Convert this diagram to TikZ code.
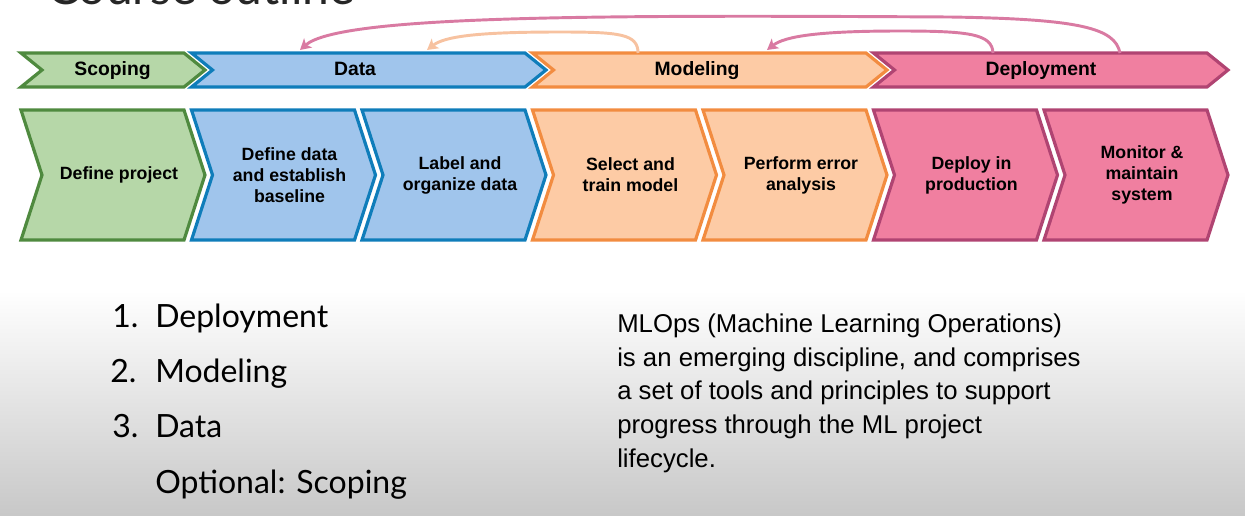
\documentclass[tikz,border=0pt]{standalone}
\usepackage{fontspec}
\setmainfont{Liberation Sans}
\newfontfamily\slidefont{Lato}
\usetikzlibrary{arrows.meta}
\definecolor{scopefill}{HTML}{B6D7A8}
\definecolor{scopeline}{HTML}{4F8A3F}
\definecolor{datafill}{HTML}{A0C5EC}
\definecolor{dataline}{HTML}{0F7DBA}
\definecolor{modelfill}{HTML}{FDCBA5}
\definecolor{modelline}{HTML}{F28C40}
\definecolor{deployfill}{HTML}{F07FA0}
\definecolor{deployline}{HTML}{B04472}
\definecolor{pinkloop}{HTML}{D97AA2}
\definecolor{peachloop}{HTML}{F7C2A0}
\definecolor{bggray}{HTML}{C8C8C8}
\tikzset {
    chevron/.style = {line width = 2.4pt, line join = miter},
    scoping box/.style = {chevron, draw = scopeline, fill = scopefill},
    data box/.style = {chevron, draw = dataline, fill = datafill},
    modeling box/.style = {chevron, draw = modelline, fill = modelfill},
    deployment box/.style = {chevron, draw = deployline, fill = deployfill},
    %
    band label/.style = {anchor = base, inner sep = 0pt, font = \fontsize{14.5}{17}\selectfont\bfseries},
    step label/.style = {inner sep = 0pt, align = center,
        font = \fontsize{13.3}{15.8}\selectfont\bfseries},
    loop back/.style = {line width = 2.2pt, -{Stealth[length = 8pt, width = 9pt, inset = 2pt]}},
    %
    title text/.style = {anchor = base west, inner sep = 0pt,
        font = \slidefont\fontsize{36}{40}\selectfont, text = black!85},
    list text/.style = {anchor = base west, inner sep = 0pt,
        font = \slidefont\fontsize{24}{28}\selectfont},
    note text/.style = {anchor = north west, inner sep = 0pt, align = left,
        font = \fontsize{19.3}{25.3}\selectfont}
}
\begin{document}
\begin{tikzpicture}[x = 0.75pt, y = -0.75pt]
    \useasboundingbox (0, 0) rectangle (1245, 515);
    \clip (0, 0) rectangle (1245, 515);
    \shade [top color = white, bottom color = bggray] (0, 290) rectangle (1245, 515);
    \node (title) [title text] at (47, 4) {Course outline};
    % phase band
    \draw [scoping box] (21, 53) -- ++(163, 0) -- ++(21, 17) -- ++(-21, 17) -- ++(-163, 0) -- ++(21, -17) -- cycle;
    \draw [data box] (191.5, 53) -- ++(333.5, 0) -- ++(21, 17) -- ++(-21, 17) -- ++(-333.5, 0) -- ++(21, -17) -- cycle;
    \draw [modeling box] (532.5, 53) -- ++(333.5, 0) -- ++(21, 17) -- ++(-21, 17) -- ++(-333.5, 0) -- ++(21, -17) -- cycle;
    \draw [deployment box] (873.5, 53) -- ++(333.5, 0) -- ++(21, 17) -- ++(-21, 17) -- ++(-333.5, 0) -- ++(21, -17) -- cycle;
    \node (scoping) [band label] at (112.5, 75.5) {Scoping};
    \node (data) [band label] at (355, 75.5) {Data};
    \node (modeling) [band label] at (697, 75.5) {Modeling};
    \node (deployment) [band label] at (1041, 75.5) {Deployment};
    % steps
    \draw [scoping box] (21, 110) -- ++(163, 0) -- ++(21, 65) -- ++(-21, 65) -- ++(-163, 0) -- ++(21, -65) -- cycle;
    \draw [data box] (191.5, 110) -- ++(163, 0) -- ++(21, 65) -- ++(-21, 65) -- ++(-163, 0) -- ++(21, -65) -- cycle;
    \draw [data box] (362, 110) -- ++(163, 0) -- ++(21, 65) -- ++(-21, 65) -- ++(-163, 0) -- ++(21, -65) -- cycle;
    \draw [modeling box] (532.5, 110) -- ++(163, 0) -- ++(21, 65) -- ++(-21, 65) -- ++(-163, 0) -- ++(21, -65) -- cycle;
    \draw [modeling box] (703, 110) -- ++(163, 0) -- ++(21, 65) -- ++(-21, 65) -- ++(-163, 0) -- ++(21, -65) -- cycle;
    \draw [deployment box] (873.5, 110) -- ++(163, 0) -- ++(21, 65) -- ++(-21, 65) -- ++(-163, 0) -- ++(21, -65) -- cycle;
    \draw [deployment box] (1044, 110) -- ++(163, 0) -- ++(21, 65) -- ++(-21, 65) -- ++(-163, 0) -- ++(21, -65) -- cycle;
    \node (project) [step label] at (119, 175) {Define project};
    \node (baseline) [step label] at (289.5, 175) {Define data\\and establish\\baseline};
    \node (label) [step label] at (460, 175) {Label and\\organize data};
    \node (train) [step label] at (630.5, 175) {Select and\\train model};
    \node (errors) [step label] at (801, 175) {Perform error\\analysis};
    \node (deploy) [step label] at (971.5, 175) {Deploy in\\production};
    \node (monitor) [step label] at (1142, 175) {Monitor \&\\maintain\\system};
    % loops back
    \coordinate (deploy far) at (1120, 53);
    \coordinate (deploy near) at (993, 53);
    \coordinate (model out) at (638, 53);
    \coordinate (data in) at (300, 50);
    \coordinate (data back) at (427, 50);
    \coordinate (model in) at (767, 50);
    \draw [loop back, pinkloop] (deploy far) .. controls (1115, 28) and (1080, 19) .. (950, 17)
        .. controls (600, 15) and (340, 15) .. (data in);
    \draw [loop back, peachloop] (model out) .. controls (638, 34) and (620, 32) .. (560, 32)
        .. controls (480, 32) and (445, 36) .. (data back);
    \draw [loop back, pinkloop] (deploy near) .. controls (992, 34) and (970, 31) .. (900, 31)
        .. controls (820, 31) and (785, 36) .. (model in);
    % order
    \node (one) [list text] at (112, 327) {1.};
    \node (first) [list text] at (155, 327) {Deployment};
    \node (two) [list text] at (110, 382) {2.};
    \node (second) [list text] at (155, 382) {Modeling};
    \node (three) [list text] at (112, 437) {3.};
    \node (third) [list text] at (155, 437) {Data};
    \node (optional) [list text] at (155, 493) {Optional: Scoping};
    \node (mlops) [note text] at (617, 313.5) {MLOps (Machine Learning Operations)\\is an emerging discipline, and comprises\\a set of tools and principles to support\\progress through the ML project\\lifecycle.};
\end{tikzpicture}
\end{document}
